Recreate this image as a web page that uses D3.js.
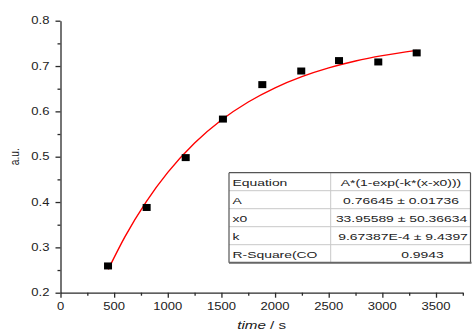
<!DOCTYPE html>
<html><head><meta charset="utf-8">
<script src="https://cdn.jsdelivr.net/npm/d3@7"></script>
<style>html,body{margin:0;padding:0;background:#fff;}svg{display:block;}</style>
</head><body>
<script>
// ---- data ----
const timeS = [443, 803, 1167, 1514, 1881, 2244, 2596, 2962, 3320];
const signal = [0.259, 0.388, 0.498, 0.583, 0.659, 0.689, 0.712, 0.709, 0.729];
// fitted curve samples
const fitX = [445, 600, 800, 1000, 1250, 1500, 1750, 2000, 2250, 2500, 2750, 3000, 3320];
const fitY = [0.2515, 0.3232, 0.4011, 0.4654, 0.5301, 0.5809, 0.6207, 0.6520, 0.6766, 0.6959, 0.7111, 0.7230, 0.7346];
const xTicks = [0, 500, 1000, 1500, 2000, 2500, 3000, 3500];
const yTicks = [0.2, 0.3, 0.4, 0.5, 0.6, 0.7, 0.8];
const tableNames = ["Equation", "A", "x0", "k", "R-Square(CO"];
const tableValues = ["A*(1-exp(-k*(x-x0)))", "0.76645 \u00b1 0.01736", "33.95589 \u00b1 50.36634", "9.67387E-4 \u00b1 9.4397", "0.9943"];

// ---- layout ----
const W = 472, H = 332;
const FONT = "'Liberation Sans', Arial, sans-serif";
const svg = d3.select("body").append("svg").attr("width", W).attr("height", H);

const x = d3.scaleLinear().domain([0, 3750]).range([60.5, 60.5 + 3750 * (375.5 / 3500)]);
const y = d3.scaleLinear().domain([0.2, 0.8]).range([292.7, 20.7]);

function stext(g, px, py, str, anchor, size, sx, extra) {
  const t = g.append("text")
    .attr("transform", `translate(${px},${py}) scale(${sx},1)` + (extra || ""))
    .attr("text-anchor", anchor)
    .attr("font-family", FONT)
    .attr("font-size", size)
    .attr("fill", "#222");
  if (str !== null) t.text(str);
  return t;
}

// axes
const axColor = "#2a2a2a";
const yAx = svg.append("g").attr("transform", `translate(${x(0)},0)`)
  .call(d3.axisLeft(y).tickValues(yTicks).tickSize(5).tickSizeOuter(0).tickFormat(""));
const yMin = svg.append("g").attr("transform", `translate(${x(0)},0)`)
  .call(d3.axisLeft(y).tickValues(d3.range(0.25, 0.8, 0.1)).tickSize(3).tickSizeOuter(0).tickFormat(""));
const xAx = svg.append("g").attr("transform", `translate(0,${y(0.2)})`)
  .call(d3.axisBottom(x).tickValues(xTicks).tickSize(5).tickSizeOuter(0).tickFormat(""));
const xMin = svg.append("g").attr("transform", `translate(0,${y(0.2)})`)
  .call(d3.axisBottom(x).tickValues(d3.range(250, 3800, 500)).tickSize(3).tickSizeOuter(0).tickFormat(""));
[yAx, yMin, xAx, xMin].forEach(g => {
  g.selectAll("path,line").attr("stroke", axColor).attr("stroke-width", 1.3);
});
yMin.select("path").remove(); xMin.select("path").remove();

const lab = svg.append("g");
yTicks.forEach(v => stext(lab, 49.5, y(v) + 3.7, d3.format(".1f")(v), "end", 10.2, 1.28));
xTicks.forEach(v => stext(lab, x(v), 309.8, String(v), "middle", 10.2, 1.28));

// axis titles
const yl = stext(lab, 18.5, y(0.5), "a.u.", "middle", 10.2, 1.3, " rotate(-90)");
const xl = stext(lab, (x(0) + x(3750)) / 2, 328.5, null, "middle", 10.5, 1.45);
xl.append("tspan").attr("font-style", "italic").text("time");
xl.append("tspan").text(" / s");

// fit curve
const pts = fitX.map((d, i) => [d, fitY[i]]);
svg.append("path")
  .attr("d", d3.line().x(d => x(d[0])).y(d => y(d[1])).curve(d3.curveMonotoneX)(pts))
  .attr("fill", "none").attr("stroke", "#ff0000").attr("stroke-width", 1.4);

// data points
svg.append("g").selectAll("rect").data(timeS).join("rect")
  .attr("x", (d) => x(d) - 4)
  .attr("y", (d, i) => y(signal[i]) - 3.5)
  .attr("width", 8).attr("height", 7).attr("fill", "#000");

// table
const tb = svg.append("g");
const tL = 229, tR = 470.5, tT = 172.7, rowH = 18, colX = 330.7;
const nR = tableNames.length;
tb.append("rect").attr("x", tL).attr("y", tT).attr("width", tR - tL).attr("height", rowH * nR)
  .attr("fill", "#fff").attr("stroke", "none");
for (let i = 1; i < nR; i++) {
  tb.append("line").attr("x1", tL).attr("x2", tR).attr("y1", tT + i * rowH).attr("y2", tT + i * rowH)
    .attr("stroke", "#c8c8c8").attr("stroke-width", 1);
}
tb.append("line").attr("x1", colX).attr("x2", colX).attr("y1", tT).attr("y2", tT + rowH * nR)
  .attr("stroke", "#c8c8c8").attr("stroke-width", 1);
tb.append("line").attr("x1", tL).attr("x2", tR).attr("y1", tT).attr("y2", tT).attr("stroke", "#555").attr("stroke-width", 1.2);
tb.append("line").attr("x1", tL).attr("x2", tL).attr("y1", tT).attr("y2", tT + rowH * nR).attr("stroke", "#555").attr("stroke-width", 1.2);
tb.append("line").attr("x1", tR).attr("x2", tR).attr("y1", tT).attr("y2", tT + rowH * nR).attr("stroke", "#555").attr("stroke-width", 1.2);
tb.append("line").attr("x1", tL).attr("x2", tR + 1).attr("y1", tT + rowH * nR).attr("y2", tT + rowH * nR).attr("stroke", "#666").attr("stroke-width", 2);
const valCenters = [401, 401, 401.5, 403, 422.5];
tableNames.forEach((s, i) => stext(tb, tL + 3.5, tT + i * rowH + 12.8, s, "start", 9.8, 1.42));
tableValues.forEach((s, i) => stext(tb, valCenters[i], tT + i * rowH + 12.8, s, "middle", 9.8, 1.42));
</script>
</body></html>
